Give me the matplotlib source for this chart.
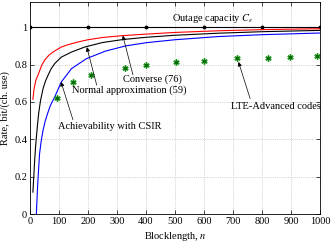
import matplotlib
matplotlib.use("Agg")
import matplotlib.pyplot as plt

plt.rcParams['font.family'] = ['Liberation Serif', 'DejaVu Serif']
plt.rcParams['mathtext.fontset'] = 'stix'

# Data
outage_n = [0, 200, 400, 600, 800, 1000]
outage_r = [1, 1, 1, 1, 1, 1]

conv_n = [10, 14, 20, 28, 40, 50, 65, 80, 108, 130, 166, 200, 250, 320, 400, 500, 650, 800, 1000]
conv_r = [0.614, 0.67, 0.715, 0.745, 0.795, 0.823, 0.85, 0.868, 0.894, 0.906, 0.921, 0.933,
          0.945, 0.955, 0.963, 0.972, 0.981, 0.987, 0.992]

norm_n = [10, 13, 16, 19, 22, 26, 30, 36, 45, 53, 62, 72, 85, 108, 143, 189, 250, 320, 400,
          500, 650, 800, 1000]
norm_r = [0.117, 0.2, 0.287, 0.355, 0.412, 0.48, 0.54, 0.605, 0.671, 0.71, 0.742, 0.775,
          0.805, 0.84, 0.867, 0.894, 0.918, 0.934, 0.946, 0.957, 0.968, 0.976, 0.983]

ach_n = [22, 25, 28, 33, 39, 45, 52, 60, 70, 85, 108, 143, 195, 260, 330, 400, 500, 650, 800, 1000]
ach_r = [0.0, 0.11, 0.197, 0.323, 0.395, 0.448, 0.495, 0.535, 0.58, 0.626, 0.707, 0.778,
         0.832, 0.872, 0.9, 0.917, 0.933, 0.95, 0.96, 0.969]

lte_n = [92, 148, 210, 328, 400, 503, 601, 715, 822, 897, 990]
lte_r = [0.621, 0.706, 0.745, 0.784, 0.798, 0.816, 0.821, 0.833, 0.837, 0.843, 0.846]

xticks = list(range(0, 1001, 100))
yticks = [0, 0.2, 0.4, 0.6, 0.8, 1]

fig = plt.figure(figsize=(3.32, 2.45), dpi=100)
ax = fig.add_axes([30/332, 31/245, 290/332, 212/245])

ax.plot(outage_n, outage_r, color='k', lw=0.8, marker='o', ms=1.8)
ax.plot(conv_n, conv_r, color='#ff0000', lw=0.8)
ax.plot(norm_n, norm_r, color='k', lw=0.8)
ax.plot(ach_n, ach_r, color='#0000ff', lw=0.8)
ax.plot(lte_n, lte_r, ls='none', marker=(6, 2, 0), ms=4.5, mew=1.0, color='#1fa01f')
ax.plot(lte_n, lte_r, ls='none', marker='o', ms=1.8, color='#0b6a0b')

ax.set_xlim(0, 1000)
ax.set_ylim(0, 1.135)
ax.set_xticks(xticks)
ax.set_yticks(yticks)
ax.set_yticklabels(['0', '0.2', '0.4', '0.6', '0.8', '1'])
ax.tick_params(direction='in', top=True, right=True, length=3, width=0.5, labelsize=7.5, pad=2)
ax.grid(True, ls=':', color='#b0b0b0', lw=0.5)
for s in ax.spines.values():
    s.set_linewidth(0.6)

ax.set_xlabel('Blocklength, $n$', fontsize=7.5, labelpad=3)
ax.set_ylabel('Rate, bit/(ch. use)', fontsize=7.5, labelpad=3)

fs = 7.5
ap = dict(arrowstyle='-|>', lw=0.5, color='k', mutation_scale=6, shrinkA=0, shrinkB=0)
ax.text(488, 1.048, 'Outage capacity $C_\\epsilon$', fontsize=fs, ha='left', va='center')
ax.text(321, 0.721, 'Converse (76)', fontsize=fs, ha='left', va='center')
ax.text(144, 0.662, 'Normal approximation (59)', fontsize=fs, ha='left', va='center')
ax.text(98, 0.469, 'Achievability with CSIR', fontsize=fs, ha='left', va='center')
ax.text(692, 0.573, 'LTE-Advanced codes', fontsize=fs, ha='left', va='center')

ax.annotate('', xy=(320, 0.955), xytext=(355, 0.745), arrowprops=ap)
ax.annotate('', xy=(196, 0.893), xytext=(230, 0.69), arrowprops=ap)
ax.annotate('', xy=(107, 0.707), xytext=(148, 0.505), arrowprops=ap)
ax.annotate('', xy=(719, 0.814), xytext=(759, 0.618), arrowprops=ap)

fig.savefig('out.png', dpi=100)
